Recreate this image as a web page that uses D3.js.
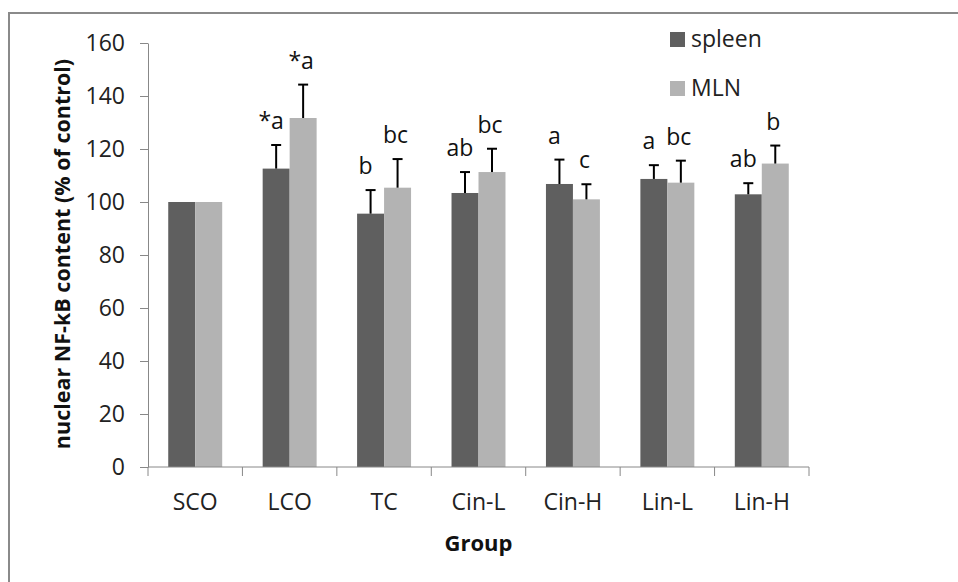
<!DOCTYPE html>
<html>
<head>
<meta charset="utf-8">
<script src="https://cdn.jsdelivr.net/npm/d3@7"></script>
<style>
    body { margin: 0; background: #ffffff; }
    svg text { font-family: "Open Sans", "Noto Sans", sans-serif; }
</style>
</head>
<body>
<div id="chart"></div>
<script>
// NF-kB bar chart: spleen vs MLN per group
const groups = ['SCO', 'LCO', 'TC', 'Cin-L', 'Cin-H', 'Lin-L', 'Lin-H'];
const seriesNames = ['spleen', 'MLN'];
const spleenValues = [100, 112.6, 95.6, 103.4, 106.8, 108.7, 102.9];
const spleenErrors = [0, 8.9, 8.9, 7.9, 9.2, 5.2, 4.2];
const mlnValues = [100, 131.7, 105.4, 111.3, 101.0, 107.3, 114.5];
const mlnErrors = [0, 12.6, 10.8, 8.8, 5.7, 8.3, 6.8];
const spleenLabels = ['', '*a', 'b', 'ab', 'a', 'a', 'ab'];
const mlnLabels = ['', '*a', 'bc', 'bc', 'c', 'bc', 'b'];
const yTicks = [0, 20, 40, 60, 80, 100, 120, 140, 160];

const colors = { spleen: '#5f5f5f', MLN: '#b3b3b3' };

const width = 958;
const height = 582;
const margin = { top: 43, right: 149, bottom: 115, left: 148 };
const plotW = width - margin.left - margin.right;
const plotH = height - margin.top - margin.bottom;

const svg = d3.select('#chart')
    .append('svg')
    .attr('width', width)
    .attr('height', height);

// Outer chart frame (extends past right/bottom edge like the original)
svg.append('rect')
    .attr('x', 9)
    .attr('y', 13)
    .attr('width', width + 10)
    .attr('height', height + 10)
    .attr('fill', 'none')
    .attr('stroke', '#8a8a8a')
    .attr('stroke-width', 2);

const g = svg.append('g')
    .attr('transform', `translate(${margin.left},${margin.top})`);

const x0 = d3.scaleBand()
    .domain(groups)
    .range([0, plotW])
    .padding(0);

const x1 = d3.scaleBand()
    .domain(seriesNames)
    .range([0, x0.bandwidth()])
    .paddingInner(0)
    .paddingOuter(0.75);

const y = d3.scaleLinear()
    .domain([0, 160])
    .range([plotH, 0]);

// Build rows for the bars
const rows = [];
groups.forEach((grp, i) => {
    rows.push({ group: grp, series: 'spleen', value: spleenValues[i], err: spleenErrors[i], label: spleenLabels[i] });
    rows.push({ group: grp, series: 'MLN', value: mlnValues[i], err: mlnErrors[i], label: mlnLabels[i] });
});

// Bars
g.selectAll('.bar')
    .data(rows)
    .enter()
    .append('rect')
    .attr('class', 'bar')
    .attr('x', d => x0(d.group) + x1(d.series))
    .attr('y', d => y(d.value))
    .attr('width', x1.bandwidth())
    .attr('height', d => plotH - y(d.value))
    .attr('fill', d => colors[d.series]);

// Error bars (upper only)
const errRows = rows.filter(d => d.err > 0);
const cx = d => x0(d.group) + x1(d.series) + x1.bandwidth() / 2;

g.selectAll('.err-line')
    .data(errRows)
    .enter()
    .append('line')
    .attr('x1', cx)
    .attr('x2', cx)
    .attr('y1', d => y(d.value))
    .attr('y2', d => y(d.value + d.err))
    .attr('stroke', '#000')
    .attr('stroke-width', 2);

g.selectAll('.err-cap')
    .data(errRows)
    .enter()
    .append('line')
    .attr('x1', d => cx(d) - 5)
    .attr('x2', d => cx(d) + 5)
    .attr('y1', d => y(d.value + d.err))
    .attr('y2', d => y(d.value + d.err))
    .attr('stroke', '#000')
    .attr('stroke-width', 2);

// Significance letters
g.selectAll('.sig')
    .data(rows.filter(d => d.label))
    .enter()
    .append('text')
    .attr('x', d => cx(d) + (d.series === 'spleen' ? -5 : -2))
    .attr('y', d => y(d.value + d.err) - 16)
    .attr('text-anchor', 'middle')
    .style('font-size', '23px')
    .style('fill', '#111')
    .text(d => d.label);

// Y axis
const yAxis = g.append('g')
    .call(d3.axisLeft(y)
        .tickValues(yTicks)
        .tickSize(8)
        .tickSizeOuter(0)
        .tickPadding(15));
yAxis.select('.domain').attr('stroke', '#888');
yAxis.selectAll('.tick line').attr('stroke', '#888');
yAxis.selectAll('.tick text')
    .style('font-size', '23px')
    .style('fill', '#222');

// X axis: line, boundary ticks, centered labels
const xAxis = g.append('g')
    .attr('transform', `translate(0,${plotH})`);
xAxis.append('line')
    .attr('x1', 0)
    .attr('x2', plotW)
    .attr('stroke', '#888');
xAxis.selectAll('.xtick')
    .data(groups.map(d => x0(d)).concat([plotW]))
    .enter()
    .append('line')
    .attr('x1', d => d)
    .attr('x2', d => d)
    .attr('y1', 0)
    .attr('y2', 9)
    .attr('stroke', '#888');
xAxis.selectAll('.xlabel')
    .data(groups)
    .enter()
    .append('text')
    .attr('x', d => x0(d) + x0.bandwidth() / 2)
    .attr('y', 43)
    .attr('text-anchor', 'middle')
    .style('font-size', '23px')
    .style('fill', '#222')
    .text(d => d);

// Axis titles
svg.append('text')
    .attr('text-anchor', 'middle')
    .attr('x', margin.left + plotW / 2)
    .attr('y', 551)
    .style('font-size', '22px')
    .style('font-weight', '700')
    .style('fill', '#111')
    .text('Group');

svg.append('text')
    .attr('text-anchor', 'middle')
    .attr('transform', 'rotate(-90)')
    .attr('x', -254)
    .attr('y', 70)
    .style('font-size', '21.5px')
    .style('font-weight', '700')
    .style('fill', '#111')
    .text('nuclear NF-kB content (% of control)');

// Legend
const legend = svg.append('g')
    .attr('transform', 'translate(670,32)');
seriesNames.forEach((name, i) => {
    const row = legend.append('g')
        .attr('transform', `translate(0, ${i * 49})`);
    row.append('rect')
        .attr('width', 15)
        .attr('height', 15)
        .attr('fill', colors[name]);
    row.append('text')
        .attr('x', 21)
        .attr('y', 15)
        .style('font-size', '23px')
        .style('fill', '#222')
        .text(name);
});
</script>
</body>
</html>
